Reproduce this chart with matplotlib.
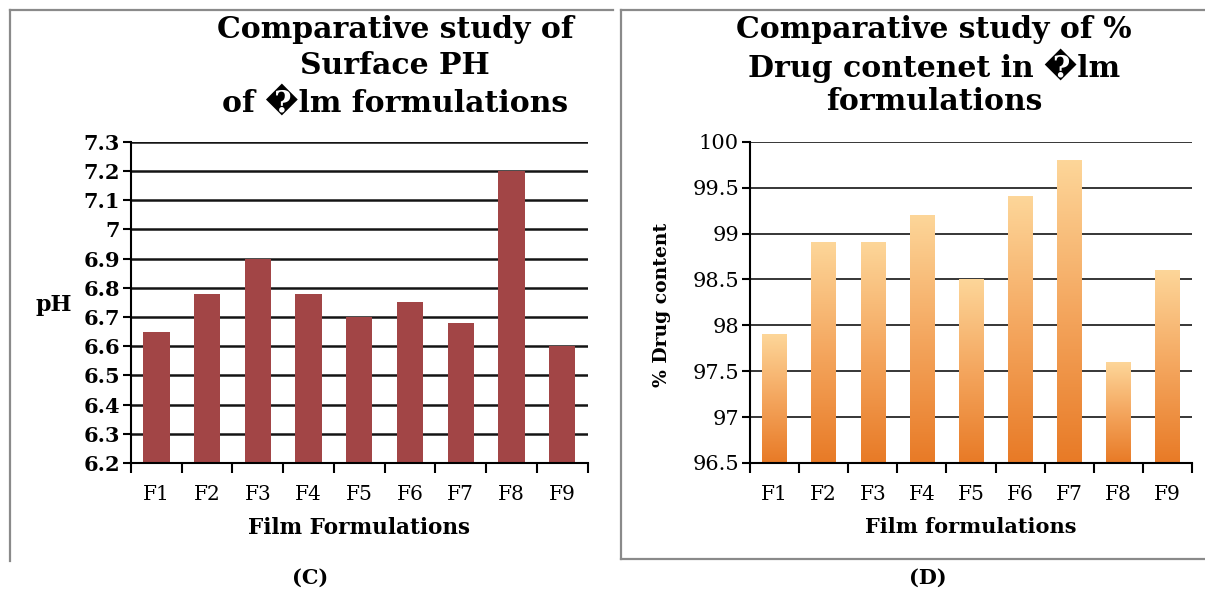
import numpy as np
import matplotlib
matplotlib.use("Agg")
import matplotlib.pyplot as plt
from matplotlib.lines import Line2D
from matplotlib.colors import LinearSegmentedColormap

# Data
formulations = ["F1", "F2", "F3", "F4", "F5", "F6", "F7", "F8", "F9"]
surface_ph = [6.65, 6.78, 6.90, 6.78, 6.70, 6.75, 6.68, 7.20, 6.60]
drug_content = [97.9, 98.9, 98.9, 99.2, 98.5, 99.4, 99.8, 97.6, 98.6]
ph_ticks = [6.2, 6.3, 6.4, 6.5, 6.6, 6.7, 6.8, 6.9, 7.0, 7.1, 7.2, 7.3]
ph_ticklabels = ["6.2", "6.3", "6.4", "6.5", "6.6", "6.7", "6.8", "6.9", "7", "7.1", "7.2", "7.3"]
dc_ticks = [96.5, 97.0, 97.5, 98.0, 98.5, 99.0, 99.5, 100.0]
dc_ticklabels = ["96.5", "97", "97.5", "98", "98.5", "99", "99.5", "100"]

W, H = 1205, 589
fig = plt.figure(figsize=(W / 100, H / 100), dpi=100)
fig.patch.set_facecolor("white")

SERIF = ["DejaVu Serif", "DejaVu Sans"]


def fx(px):
    return px / W


def fy(py):
    return 1 - py / H


def style_axes(ax, ticks, ticklabels, bold_yticks, grid_lw):
    n = len(formulations)
    x = np.arange(n)
    ax.set_xlim(-0.5, n - 0.5)
    ax.set_ylim(ticks[0], ticks[-1])
    ax.set_yticks(ticks)
    ax.set_yticklabels(ticklabels, family=SERIF,
                       fontweight="bold" if bold_yticks else "normal",
                       fontsize=15)
    # category boundaries carry the tick marks, centres carry the labels
    ax.set_xticks(np.arange(n + 1) - 0.5)
    ax.set_xticklabels([])
    ax.set_xticks(x, minor=True)
    ax.set_xticklabels(formulations, minor=True, family=SERIF, fontsize=14.5)
    ax.tick_params(axis="x", which="major", direction="out", length=7, width=1.5, color="black")
    ax.tick_params(axis="x", which="minor", length=0, pad=16)
    ax.tick_params(axis="y", direction="out", length=6, width=1.5, color="black", pad=2)
    for s in ("top", "right"):
        ax.spines[s].set_visible(False)
    for s in ("left", "bottom"):
        ax.spines[s].set_linewidth(1.5)
        ax.spines[s].set_color("black")
    for t in ticks[1:]:
        ax.axhline(t, color="#141414", lw=grid_lw, zorder=0.5)
    ax.set_facecolor("white")


# Left panel: surface pH
ax1 = fig.add_axes([fx(131), fy(463), fx(587.5 - 131), (463 - 141.7) / H])
style_axes(ax1, ph_ticks, ph_ticklabels, True, 1.8)
ax1.bar(np.arange(len(formulations)), np.array(surface_ph) - ph_ticks[0],
        bottom=ph_ticks[0], width=0.52, color="#A24546", zorder=2)
ax1.set_xlabel("Film Formulations", family=SERIF, fontweight="bold", fontsize=15.5, labelpad=9)
fig.text(fx(54), fy(305), "pH", family=SERIF, fontweight="bold", fontsize=16,
         ha="center", va="center")

# Right panel: drug content with a vertical gradient in each bar
ax2 = fig.add_axes([fx(750), fy(463), fx(1192 - 750), (463 - 141.7) / H])
style_axes(ax2, dc_ticks, dc_ticklabels, False, 1.2)
cmap = LinearSegmentedColormap.from_list("orange_grad", ["#E87A26", "#F4A65E", "#FDD699"])
grad = np.linspace(0, 1, 256).reshape(-1, 1)
bars = ax2.bar(np.arange(len(formulations)), np.array(drug_content) - dc_ticks[0],
               bottom=dc_ticks[0], width=0.5, color="none", zorder=2)
for b in bars:
    x0, y0 = b.get_x(), b.get_y()
    w, h = b.get_width(), b.get_height()
    ax2.imshow(grad, cmap=cmap, origin="lower", aspect="auto",
               extent=[x0, x0 + w, y0, y0 + h], zorder=2, interpolation="bilinear")
ax2.set_xlim(-0.5, len(formulations) - 0.5)
ax2.set_ylim(dc_ticks[0], dc_ticks[-1])
ax2.set_xlabel("Film formulations", family=SERIF, fontweight="bold", fontsize=15, labelpad=9)
fig.text(fx(662), fy(305), "% Drug content", family=SERIF, fontweight="bold", fontsize=13.5,
         ha="center", va="center", rotation=90)

# Titles
title_kw = dict(family=SERIF, fontweight="bold", fontsize=21.5, ha="center", va="center")
for i, line in enumerate(["Comparative study of", "Surface PH", "of \ufffdlm formulations"]):
    fig.text(fx(395), fy(30 + 36 * i), line, **title_kw)
for i, line in enumerate(["Comparative study of %", "Drug contenet in \ufffdlm", "formulations"]):
    fig.text(fx(934), fy(30 + 36 * i), line, **title_kw)

# Panel letters
fig.text(fx(310), fy(578), "(C)", family=SERIF, fontweight="bold", fontsize=15, ha="center", va="center")
fig.text(fx(928), fy(578), "(D)", family=SERIF, fontweight="bold", fontsize=15, ha="center", va="center")

# Panel frames
frame = dict(color="#8a8a8a", lw=1.6, transform=fig.transFigure)
fig.add_artist(Line2D([fx(10), fx(613)], [fy(10), fy(10)], **frame))
fig.add_artist(Line2D([fx(10), fx(10)], [fy(10), fy(561)], **frame))
fig.add_artist(Line2D([fx(621), fx(1206)], [fy(10), fy(10)], **frame))
fig.add_artist(Line2D([fx(621), fx(621)], [fy(10), fy(559)], **frame))
fig.add_artist(Line2D([fx(621), fx(1206)], [fy(559), fy(559)], **frame))

fig.savefig("out.png", dpi=100, facecolor="white")
